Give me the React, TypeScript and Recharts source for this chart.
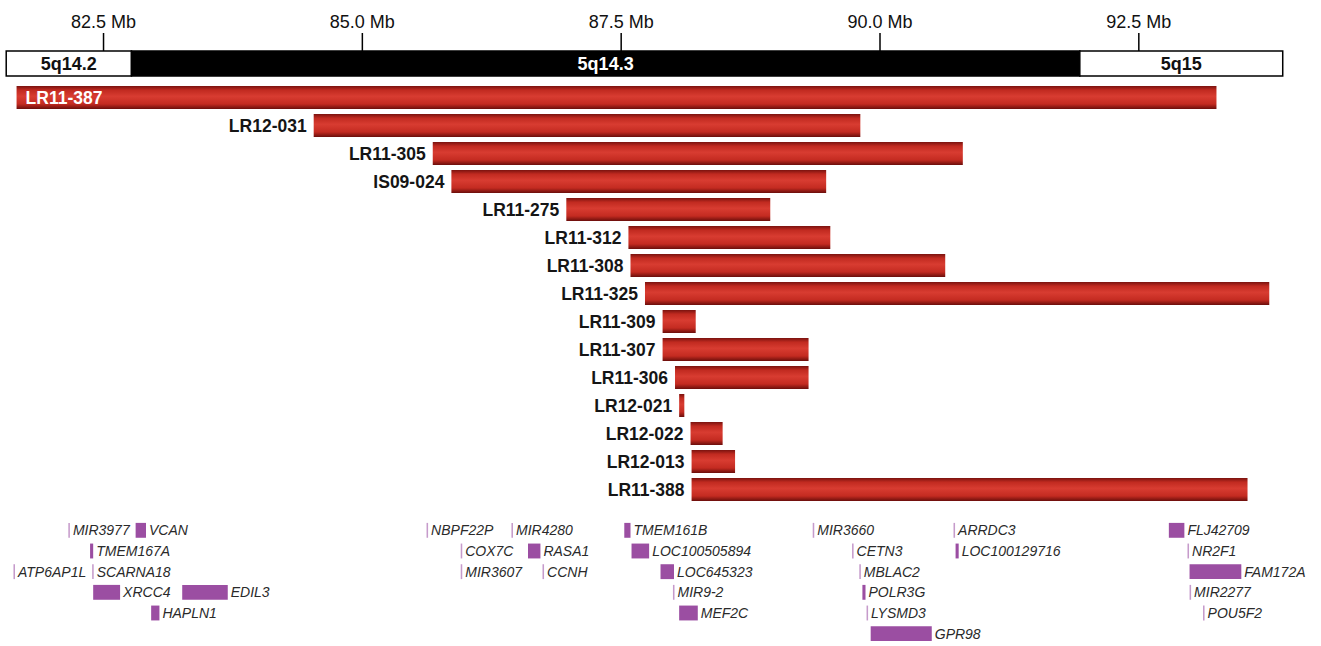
import React from 'react';
import { ComposedChart, BarChart, Bar, Scatter, XAxis, YAxis, ReferenceArea } from 'recharts';

const FONT = '"Liberation Sans", Arial, Helvetica, sans-serif';
const X_DOMAIN: [number, number] = [81.5, 94.25];
const CHART_W = 1321;

// axis ticks (Mb)
const tickValues = [82.5, 85.0, 87.5, 90.0, 92.5];

// cytobands
const bandNames = ['5q14.2', '5q14.3', '5q15'];
const bandStarts = [81.56, 82.77, 91.93];
const bandEnds = [82.77, 91.93, 93.89];
const bandStains = ['gneg', 'gpos', 'gneg'];

// deletion intervals per patient
const sampleNames = [
  'LR11-387', 'LR12-031', 'LR11-305', 'IS09-024', 'LR11-275', 'LR11-312', 'LR11-308', 'LR11-325',
  'LR11-309', 'LR11-307', 'LR11-306', 'LR12-021', 'LR12-022', 'LR12-013', 'LR11-388',
];
const sampleStarts = [81.66, 84.53, 85.68, 85.86, 86.97, 87.57, 87.59, 87.73, 87.9, 87.9, 88.02, 88.06, 88.17, 88.18, 88.18];
const sampleEnds = [93.25, 89.81, 90.8, 89.48, 88.94, 89.52, 90.63, 93.76, 88.22, 89.31, 89.31, 88.11, 88.48, 88.6, 93.55];

// genes in the region (row = track line)
const geneNames = [
  'MIR3977', 'VCAN', 'TMEM167A', 'ATP6AP1L', 'SCARNA18', 'XRCC4', 'EDIL3', 'HAPLN1',
  'NBPF22P', 'MIR4280', 'COX7C', 'RASA1', 'MIR3607', 'CCNH',
  'TMEM161B', 'LOC100505894', 'LOC645323', 'MIR9-2', 'MEF2C',
  'MIR3660', 'CETN3', 'MBLAC2', 'POLR3G', 'LYSMD3', 'GPR98', 'ARRDC3', 'LOC100129716',
  'FLJ42709', 'NR2F1', 'FAM172A', 'MIR2277', 'POU5F2',
];
const geneStarts = [
  82.16, 82.81, 82.37, 81.63, 82.39, 82.4, 83.26, 82.96,
  85.62, 86.44, 85.95, 86.6, 85.95, 86.74,
  87.53, 87.6, 87.88, 88.0, 88.06,
  89.35, 89.73, 89.8, 89.83, 89.87, 89.91, 90.71, 90.73,
  92.79, 92.97, 92.99, 92.99, 93.12,
];
const geneEnds = [
  82.175, 82.91, 82.4, 81.645, 82.405, 82.66, 83.7, 83.04,
  85.635, 86.455, 85.965, 86.72, 85.965, 86.755,
  87.59, 87.77, 88.01, 88.015, 88.24,
  89.365, 89.745, 89.815, 89.86, 89.885, 90.5, 90.725, 90.76,
  92.94, 92.985, 93.49, 93.005, 93.135,
];
const geneRows = [
  1, 1, 2, 3, 3, 4, 4, 5,
  1, 1, 2, 2, 3, 3,
  1, 2, 3, 4, 5,
  1, 2, 3, 4, 5, 6, 1, 2,
  1, 2, 3, 4, 5,
];

const sampleData = sampleNames.map((name, i) => ({ name, range: [sampleStarts[i], sampleEnds[i]] }));
const bandData = bandNames.map((name, i) => ({ name, x: bandStarts[i], y: 0.5 }));
const geneData = geneNames.map((name, i) => ({ name, x: geneStarts[i], y: geneRows[i] }));

const NoShape = () => <g />;

const SampleLabel = (props: any) => {
  const vb = props.viewBox || props;
  const { x, y, height } = vb;
  const first = props.index === 0;
  return (
    <text
      x={first ? x + 9 : x - 7}
      y={y + height / 2}
      dominantBaseline="central"
      textAnchor={first ? 'start' : 'end'}
      fill={first ? '#fff' : '#151515'}
      fontSize={17.5}
      fontWeight="bold"
      fontFamily={FONT}
    >
      {sampleNames[props.index]}
    </text>
  );
};

export default function App() {
  return (
    <div style={{ position: 'absolute', left: 0, top: 0, width: 1321, height: 646, background: '#fff', fontFamily: FONT }}>
      {/* ideogram + Mb axis */}
      <div style={{ position: 'absolute', left: 0, top: 0 }}>
        <ComposedChart width={CHART_W} height={78} margin={{ top: 0, right: 1, bottom: 2, left: 0 }}>
          <XAxis
            type="number"
            dataKey="x"
            orientation="top"
            domain={X_DOMAIN}
            allowDataOverflow
            height={51}
            ticks={tickValues}
            interval={0}
            tickFormatter={(v: number) => `${v.toFixed(1)} Mb`}
            tickSize={18}
            tickMargin={5}
            axisLine={false}
            tickLine={{ stroke: '#000', strokeWidth: 1.5 }}
            tick={{ fontSize: 18, fill: '#111', fontFamily: FONT }}
          />
          <YAxis type="number" dataKey="y" domain={[0, 1]} hide allowDataOverflow />
          <Scatter data={bandData} shape={NoShape} isAnimationActive={false} />
          {bandNames.map((b, i) => (
            <ReferenceArea
              key={b}
              x1={bandStarts[i]}
              x2={bandEnds[i]}
              y1={0}
              y2={1}
              fill={bandStains[i] === 'gpos' ? '#000' : '#fff'}
              fillOpacity={1}
              stroke="#000"
              strokeWidth={1.5}
              label={{
                value: b,
                position: 'center',
                fill: bandStains[i] === 'gpos' ? '#fff' : '#111',
                fontSize: 18,
                fontWeight: 'bold',
                fontFamily: FONT,
              }}
            />
          ))}
        </ComposedChart>
      </div>

      {/* deletion bars */}
      <div style={{ position: 'absolute', left: 0, top: 83 }}>
        <BarChart
          width={CHART_W}
          height={420}
          data={sampleData}
          layout="vertical"
          margin={{ top: 0, right: 1, bottom: 0, left: 0 }}
          barCategoryGap={5}
        >
          <defs>
            <linearGradient id="delGrad" x1="0" y1="0" x2="0" y2="1">
              <stop offset="0%" stopColor="#7a130f" />
              <stop offset="18%" stopColor="#c12a20" />
              <stop offset="45%" stopColor="#d83c31" />
              <stop offset="78%" stopColor="#c42b21" />
              <stop offset="100%" stopColor="#6b0e0b" />
            </linearGradient>
          </defs>
          <XAxis type="number" domain={X_DOMAIN} allowDataOverflow hide />
          <YAxis type="category" dataKey="name" hide />
          <Bar
            dataKey="range"
            barSize={23}
            fill="url(#delGrad)"
            isAnimationActive={false}
            label={(p: any) => <SampleLabel {...p} />}
          />
        </BarChart>
      </div>

      {/* genes */}
      <div style={{ position: 'absolute', left: 0, top: 520 }}>
        <ComposedChart width={CHART_W} height={124} margin={{ top: 0, right: 1, bottom: 0, left: 0 }}>
          <XAxis type="number" dataKey="x" domain={X_DOMAIN} allowDataOverflow hide />
          <YAxis type="number" dataKey="y" domain={[0.5, 6.5]} reversed allowDataOverflow hide />
          <Scatter data={geneData} shape={NoShape} isAnimationActive={false} />
          {geneNames.map((g, i) => (
            <ReferenceArea
              key={g}
              x1={geneStarts[i]}
              x2={geneEnds[i]}
              y1={geneRows[i] - 0.36}
              y2={geneRows[i] + 0.36}
              fill={geneEnds[i] - geneStarts[i] < 0.02 ? '#c69bcb' : '#9b4ea2'}
              fillOpacity={1}
              stroke="none"
              label={{
                value: g,
                position: 'right',
                offset: 3,
                fill: '#2a2a2a',
                fontSize: 14,
                fontStyle: 'italic',
                fontFamily: FONT,
              }}
            />
          ))}
        </ComposedChart>
      </div>
    </div>
  );
}
